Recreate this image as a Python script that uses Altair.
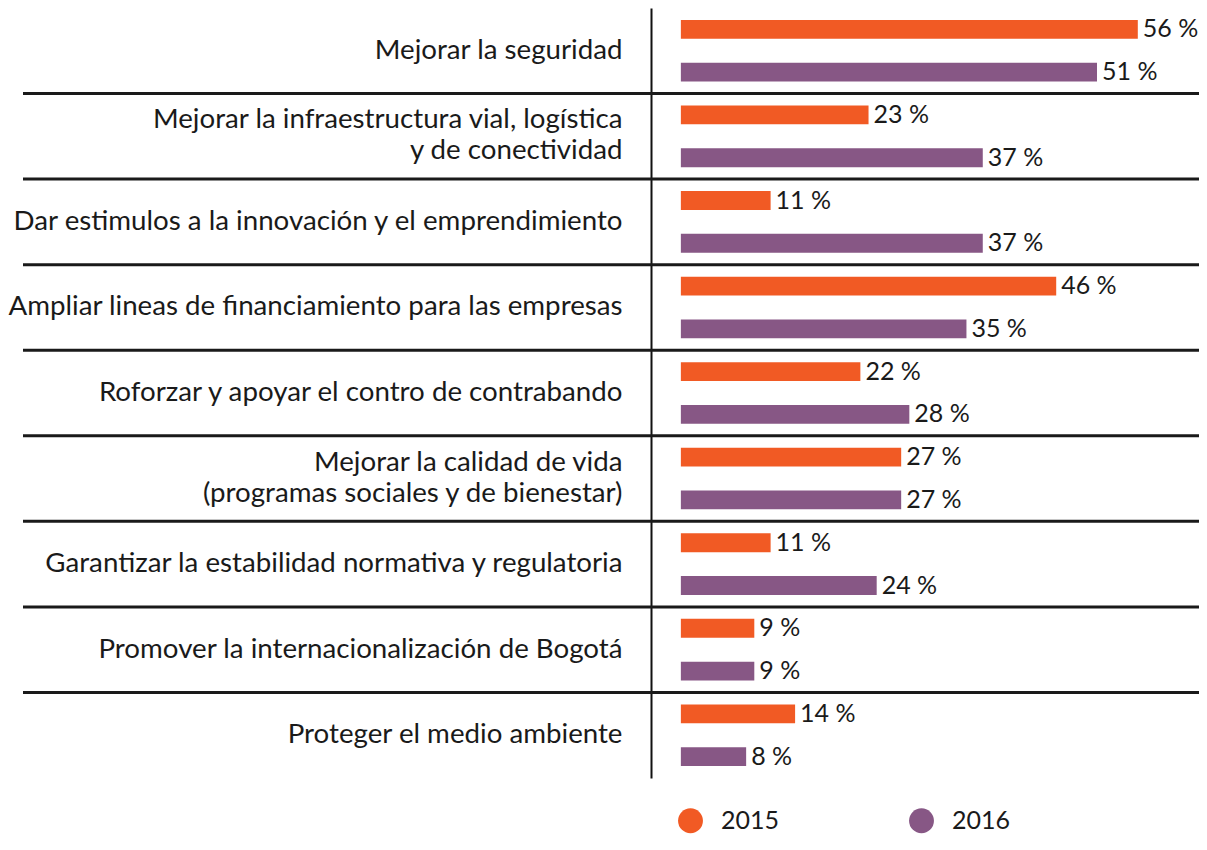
import altair as alt
import pandas as pd

categories = [
    "Mejorar la seguridad",
    "Mejorar la infraestructura vial, logística|y de conectividad",
    "Dar estimulos a la innovación y el emprendimiento",
    "Ampliar lineas de financiamiento para las empresas",
    "Roforzar y apoyar el contro de contrabando",
    "Mejorar la calidad de vida|(programas sociales y de bienestar)",
    "Garantizar la estabilidad normativa y regulatoria",
    "Promover la internacionalización de Bogotá",
    "Proteger el medio ambiente",
]
values_2015 = [56, 23, 11, 46, 22, 27, 11, 9, 14]
values_2016 = [51, 37, 37, 35, 28, 27, 24, 9, 8]
years = ["2015", "2016"]
colors = ["#F15A24", "#875785"]

rows = []
for c, a, b in zip(categories, values_2015, values_2016):
    rows.append({"cat": c, "year": "2015", "value": a, "label": f"{a} %"})
    rows.append({"cat": c, "year": "2016", "value": b, "label": f"{b} %"})
df = pd.DataFrame(rows)
sep_df = pd.DataFrame({"cat": categories[1:]})

FONT = "Lato"
W, H = 548, 770

y_enc = alt.Y(
    "cat:N",
    sort=categories,
    scale=alt.Scale(paddingInner=0, paddingOuter=0),
    axis=alt.Axis(
        title=None,
        labelFontSize=27.7,
        labelFont=FONT,
        labelColor="#1a1a1a",
        labelPadding=29,
        labelLimit=700,
        labelLineHeight=31,
        labelExpr="split(datum.label, '|')",
        labelOffset={
            "condition": {"test": "indexof(datum.value, '|') >= 0", "value": -16},
            "value": 0,
        },
        ticks=False,
        domainColor="#111111",
        domainWidth=2,
        grid=False,
    ),
)
yoff = alt.YOffset("year:N", sort=years, scale=alt.Scale(paddingInner=0.56, paddingOuter=0.28))
x_enc = alt.X("value:Q", scale=alt.Scale(domain=[-3.66, 63.5], nice=False, zero=False), axis=None)

bars = alt.Chart(df).mark_bar().encode(
    x=x_enc,
    y=y_enc,
    yOffset=yoff,
    color=alt.Color(
        "year:N",
        sort=years,
        scale=alt.Scale(domain=years, range=colors),
        legend=alt.Legend(
            orient="none",
            legendX=27,
            legendY=800,
            direction="horizontal",
            symbolType="circle",
            symbolSize=620,
            symbolStrokeWidth=0,
            labelFontSize=25,
            labelFont=FONT,
            labelColor="#1a1a1a",
            labelOffset=18,
            columnPadding=129,
            title=None,
        ),
    ),
)

texts = alt.Chart(df).mark_text(
    align="left", baseline="middle", dx=5, fontSize=25, font=FONT, color="#1a1a1a"
).encode(x=x_enc, y=alt.Y("cat:N", sort=categories), yOffset=yoff, text="label:N")

seps = alt.Chart(sep_df).mark_rule(color="#1a1a1a", strokeWidth=3).encode(
    y=alt.Y("cat:N", sort=categories, bandPosition=0),
    x=alt.value(-628),
    x2=alt.value(W),
)

chart = (
    alt.layer(seps, bars, texts)
    .properties(
        width=W,
        height=H,
        autosize=alt.AutoSizeParams(type="none"),
        padding={"left": 643, "top": 0, "right": 0, "bottom": 58},
    )
    .configure_view(stroke=None)
)

chart.save("out.html", embed_options={"renderer": "svg", "actions": False})
